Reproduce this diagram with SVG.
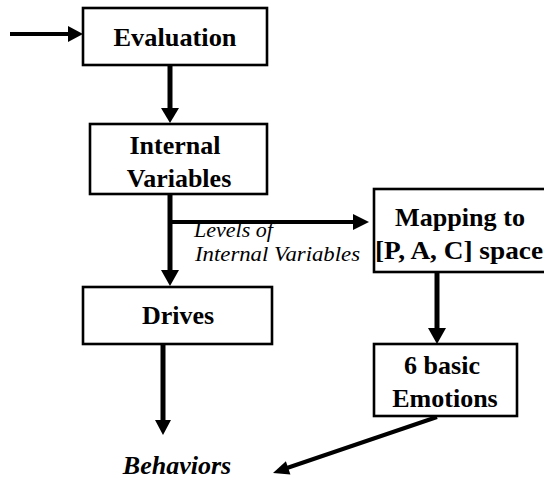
<svg xmlns="http://www.w3.org/2000/svg" width="544" height="489" viewBox="0 0 544 489">
  <defs>
    <style type="text/css">
      .box { fill: #ffffff; stroke: #000000; stroke-width: 2.6; }
      .lbl { font-weight: bold; font-size: 26px; text-anchor: middle; }
      .note { font-style: italic; font-size: 22px; }
      .out { font-style: italic; font-weight: bold; font-size: 26px; text-anchor: middle; }
      .wire { stroke: #000000; fill: none; stroke-linecap: butt; }
      .v { stroke-width: 5; }
      .h { stroke-width: 3.8; }
      .d { stroke-width: 4; }
      .head { fill: #000000; stroke: none; }
    </style>
  </defs>

  <!-- connectors -->
  <g id="connectors">
    <!-- input into Evaluation -->
    <line class="wire h" x1="10" y1="34" x2="69" y2="34"/>
    <polygon class="head" points="68,26 83,34 68,42"/>
    <!-- Evaluation -> Internal Variables -->
    <line class="wire v" x1="170" y1="65" x2="170" y2="109"/>
    <polygon class="head" points="161,108 170,123 179,108"/>
    <!-- Internal Variables -> Drives -->
    <line class="wire v" x1="170" y1="194" x2="170" y2="271"/>
    <polygon class="head" points="161,270 170,286 179,270"/>
    <!-- branch: levels of internal variables -> mapping -->
    <line class="wire h" x1="170" y1="222" x2="354" y2="222"/>
    <polygon class="head" points="353,214 369,222 353,230"/>
    <!-- Drives -> Behaviors -->
    <line class="wire v" x1="163" y1="344" x2="163" y2="421"/>
    <polygon class="head" points="155,420 163,435 171,420"/>
    <!-- Mapping -> 6 basic Emotions -->
    <line class="wire v" x1="437" y1="272" x2="437" y2="329"/>
    <polygon class="head" points="428,328 437,344 446,328"/>
    <!-- 6 basic Emotions -> Behaviors -->
    <line class="wire d" x1="437" y1="417" x2="287" y2="468"/>
    <polygon class="head" points="273,473 285.9,461.2 290.4,474.4"/>
  </g>

  <g font-family="Liberation Serif, Times New Roman, serif" fill="#000000">
    <g id="evaluation">
      <rect class="box" x="83" y="8" width="184" height="57"/>
      <text class="lbl" x="175" y="46" textLength="123" lengthAdjust="spacingAndGlyphs">Evaluation</text>
    </g>

    <g id="internal-variables">
      <rect class="box" x="90" y="124" width="177" height="70"/>
      <text class="lbl" x="175" y="154">Internal</text>
      <text class="lbl" x="179" y="187">Variables</text>
    </g>

    <g id="levels-label">
      <text class="note" x="194" y="237" textLength="79" lengthAdjust="spacingAndGlyphs">Levels of</text>
      <text class="note" x="195" y="261" textLength="165" lengthAdjust="spacingAndGlyphs">Internal Variables</text>
    </g>

    <g id="mapping">
      <rect class="box" x="374" y="189" width="180" height="83"/>
      <text class="lbl" x="460" y="226" textLength="130" lengthAdjust="spacingAndGlyphs">Mapping to</text>
      <text class="lbl" x="459" y="259" textLength="168" lengthAdjust="spacingAndGlyphs">[P, A, C] space</text>
    </g>

    <g id="drives">
      <rect class="box" x="83" y="287" width="189" height="57"/>
      <text class="lbl" x="178" y="324">Drives</text>
    </g>

    <g id="emotions">
      <rect class="box" x="374" y="344" width="143" height="72"/>
      <text class="lbl" x="442" y="374">6 basic</text>
      <text class="lbl" x="445" y="407">Emotions</text>
    </g>

    <g id="behaviors">
      <text class="out" x="177" y="474">Behaviors</text>
    </g>
  </g>
</svg>
